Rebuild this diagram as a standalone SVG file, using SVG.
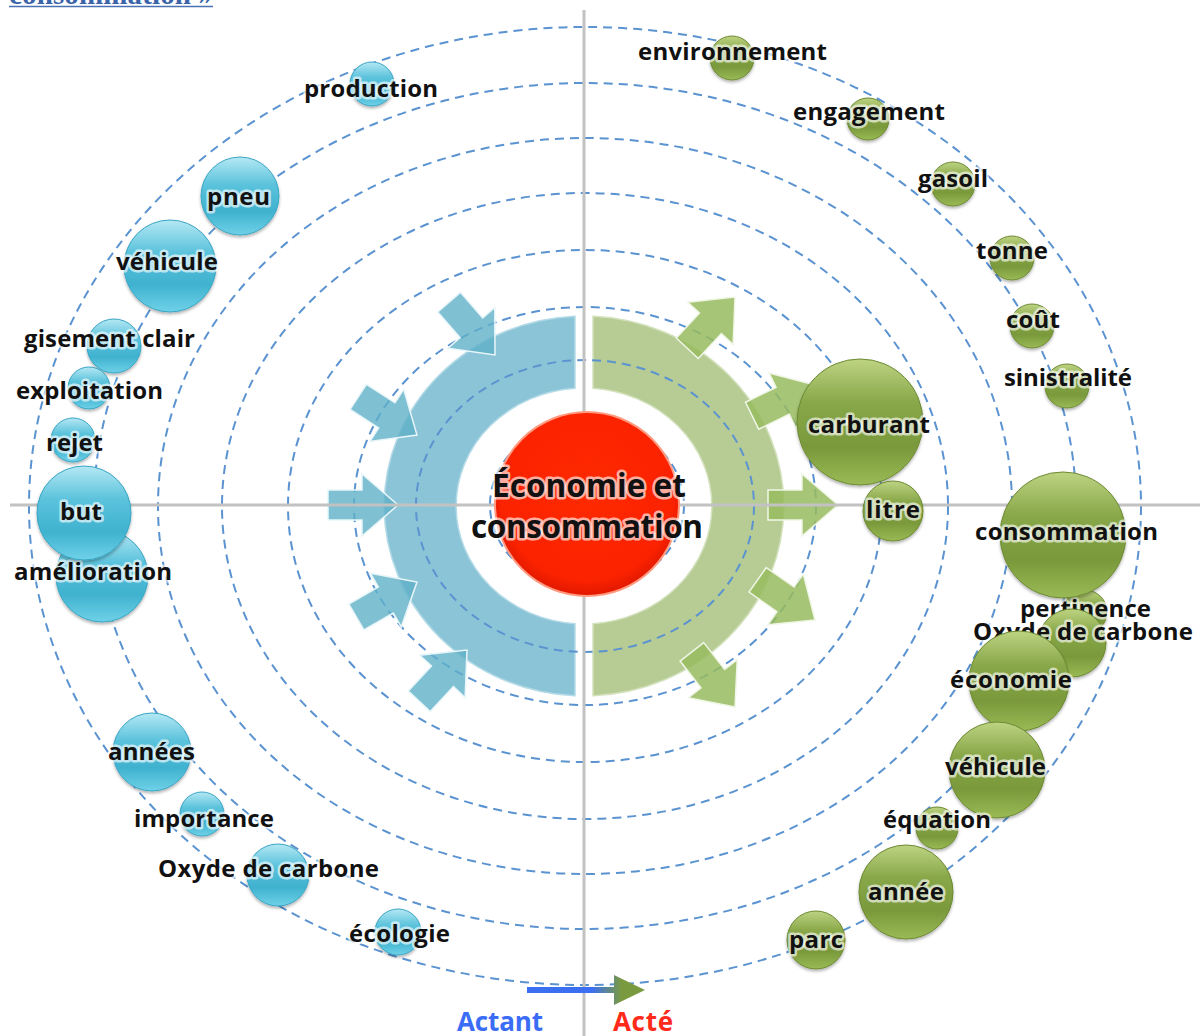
<svg xmlns="http://www.w3.org/2000/svg" width="1200" height="1036" viewBox="0 0 1200 1036">
<style>
.orb{fill:none;stroke:#5b93d0;stroke-width:2;stroke-dasharray:9 6}
.axis{stroke:#c2c2c2;stroke-width:3}
.lbl{font-family:"Open Sans","DejaVu Sans",sans-serif;font-weight:700;font-size:24px;fill:#111;text-anchor:middle;stroke:#fff;stroke-opacity:.65;stroke-width:5;stroke-linejoin:round;paint-order:stroke}
.actant circle{fill:url(#gb);stroke:#3aa6c4;stroke-width:1;filter:url(#sh)}
.acte circle{fill:url(#gg);stroke:#6d8a33;stroke-width:1;filter:url(#sh)}
.ain{fill:#5fb0c8;fill-opacity:.8;stroke:#e8f6fa;stroke-width:1.5}
.aout{fill:#98bb5e;fill-opacity:.85;stroke:#f0f6e6;stroke-width:1.5}
</style>
<defs>
<linearGradient id="gb" x1="0" y1="0" x2="0" y2="1">
<stop offset="0" stop-color="#b5e8f4"/><stop offset=".35" stop-color="#5cc3dc"/><stop offset=".7" stop-color="#3fb2cf"/><stop offset="1" stop-color="#6fd1e8"/>
</linearGradient>
<linearGradient id="gg" x1="0" y1="0" x2="0" y2="1">
<stop offset="0" stop-color="#bdd382"/><stop offset=".35" stop-color="#88a748"/><stop offset=".7" stop-color="#7a993b"/><stop offset="1" stop-color="#9aba56"/>
</linearGradient>
<radialGradient id="gr" cx=".5" cy=".45" r=".55">
<stop offset="0" stop-color="#ff2a00"/><stop offset=".85" stop-color="#fb2200"/><stop offset="1" stop-color="#e01800"/>
</radialGradient>
<linearGradient id="gl" x1="0" y1="0" x2="1" y2="0">
<stop offset="0" stop-color="#3b6ff2"/><stop offset=".55" stop-color="#3b6ff2"/><stop offset=".8" stop-color="#7a9a40"/><stop offset="1" stop-color="#7a9a40"/>
</linearGradient>
<filter id="sh" x="-20%" y="-20%" width="140%" height="150%">
<feDropShadow dx="0" dy="2" stdDeviation="1.5" flood-color="#000" flood-opacity=".3"/>
</filter>
<polygon id="arr" points="-70,-15 -36,-15 -36,-31 0,0 -36,31 -36,15 -70,15"/>
</defs>
<rect width="1200" height="1036" fill="#fff"/>

<g id="title">
<text x="111" y="4" font-family="'Liberation Serif',serif" font-weight="700" font-size="29" fill="#3b64a8" text-anchor="middle" textLength="204">consommation »</text>
<line x1="9" y1="6.5" x2="213" y2="6.5" stroke="#4a72b0" stroke-width="1.5"/>
</g>

<g id="bands">
<path d="M575,316.2 A200,190 0 0 0 575,695.8 L575,623.7 A128,118 0 0 1 575,388.3 Z" fill="#8cc4d7" stroke="#b5dbe7" stroke-width="1.5"/>
<path d="M593,316.2 A200,190 0 0 1 593,695.8 L593,623.7 A128,118 0 0 0 593,388.3 Z" fill="#b6cc94" stroke="#d3e1bd" stroke-width="1.5"/>
</g>

<g id="orbits">
<ellipse class="orb" cx="585" cy="506" rx="556" ry="479"/>
<ellipse class="orb" cx="585" cy="506" rx="491" ry="423"/>
<ellipse class="orb" cx="585" cy="506" rx="427" ry="368"/>
<ellipse class="orb" cx="585" cy="506" rx="363" ry="313"/>
<ellipse class="orb" cx="585" cy="506" rx="297" ry="256"/>
<ellipse class="orb" cx="585" cy="506" rx="231" ry="199"/>
<ellipse class="orb" cx="585" cy="506" rx="169" ry="146"/>
<ellipse class="orb" cx="587" cy="505" rx="97" ry="84"/>
</g>

<g id="connectors">
<use href="#arr" class="ain" transform="translate(495,355) rotate(49)"/>
<use href="#arr" class="ain" transform="translate(417,435) rotate(33)"/>
<use href="#arr" class="ain" transform="translate(398,505)"/>
<use href="#arr" class="ain" transform="translate(417,582) rotate(-30)"/>
<use href="#arr" class="ain" transform="translate(467,650) rotate(-47)"/>
<use href="#arr" class="aout" transform="translate(735,297) rotate(-47)"/>
<use href="#arr" class="aout" transform="translate(815,385) rotate(-26)"/>
<use href="#arr" class="aout" transform="translate(838,505)"/>
<use href="#arr" class="aout" transform="translate(815,620) rotate(35)"/>
<use href="#arr" class="aout" transform="translate(735,707) rotate(52)"/>
<line class="axis" x1="10" y1="505" x2="1200" y2="505"/>
<line class="axis" x1="584" y1="10" x2="584" y2="1036"/>
<path d="M527,987 L614,987 L614,975 L645,990 L614,1005 L614,993 L527,993 Z" fill="url(#gl)"/>
</g>

<g id="center">
<circle cx="587" cy="504" r="92" fill="url(#gr)" stroke="#ff9a80" stroke-width="2"/>
<text class="lbl" x="589" y="497" font-size="31.5" style="font-size:31.5px" textLength="194">Économie et</text>
<text class="lbl" x="587" y="538" style="font-size:31.5px" textLength="232">consommation</text>
</g>

<g id="legend">
<text x="500" y="1031" font-family="'Open Sans','DejaVu Sans',sans-serif" font-weight="700" font-size="26" fill="#3b6cf6" text-anchor="middle" textLength="86">Actant</text>
<text x="643" y="1031" font-family="'Open Sans','DejaVu Sans',sans-serif" font-weight="700" font-size="26" fill="#ff2a1a" text-anchor="middle" textLength="60">Acté</text>
</g>

<g id="n-production" class="actant"><circle cx="372" cy="84" r="22"/><text class="lbl" x="371" y="97" textLength="134">production</text></g>
<g id="n-pneu" class="actant"><circle cx="240" cy="196" r="39"/><text class="lbl" x="238.5" y="205" textLength="63">pneu</text></g>
<g id="n-vehicule-a" class="actant"><circle cx="170" cy="266" r="46"/><text class="lbl" x="167" y="270" textLength="102">véhicule</text></g>
<g id="n-gisement" class="actant"><circle cx="114" cy="346" r="27"/><text class="lbl" x="109.5" y="347" textLength="171">gisement clair</text></g>
<g id="n-exploitation" class="actant"><circle cx="89" cy="388" r="21"/><text class="lbl" x="89.5" y="399" textLength="147">exploitation</text></g>
<g id="n-rejet" class="actant"><circle cx="73" cy="440" r="22"/><text class="lbl" x="74.5" y="451" textLength="57">rejet</text></g>
<g id="n-amelioration" class="actant"><circle cx="102" cy="576" r="46"/><text class="lbl" x="93" y="580" textLength="158">amélioration</text></g>
<g id="n-but" class="actant"><circle cx="84" cy="513" r="47"/><text class="lbl" x="81" y="520" textLength="42">but</text></g>
<g id="n-annees" class="actant"><circle cx="152" cy="752" r="39"/><text class="lbl" x="151.5" y="760" textLength="87">années</text></g>
<g id="n-importance" class="actant"><circle cx="202" cy="814" r="22"/><text class="lbl" x="204" y="827" textLength="140">importance</text></g>
<g id="n-oxyde-a" class="actant"><circle cx="278" cy="875" r="31"/><text class="lbl" x="268.5" y="877" textLength="221">Oxyde de carbone</text></g>
<g id="n-ecologie" class="actant"><circle cx="398" cy="932" r="23"/><text class="lbl" x="399.5" y="942" textLength="101">écologie</text></g>

<g id="n-environnement" class="acte"><circle cx="732" cy="58" r="22"/><text class="lbl" x="732.5" y="60" textLength="189">environnement</text></g>
<g id="n-engagement" class="acte"><circle cx="868" cy="119" r="21"/><text class="lbl" x="869" y="120" textLength="152">engagement</text></g>
<g id="n-gasoil" class="acte"><circle cx="953" cy="184" r="22"/><text class="lbl" x="953" y="187" textLength="70">gasoil</text></g>
<g id="n-tonne" class="acte"><circle cx="1012" cy="258" r="22"/><text class="lbl" x="1012" y="259" textLength="72">tonne</text></g>
<g id="n-cout" class="acte"><circle cx="1032" cy="326" r="22"/><text class="lbl" x="1033" y="328" textLength="54">coût</text></g>
<g id="n-sinistralite" class="acte"><circle cx="1067" cy="386" r="22"/><text class="lbl" x="1068" y="386" textLength="128">sinistralité</text></g>
<g id="n-carburant" class="acte"><circle cx="860" cy="422" r="63"/><text class="lbl" x="869" y="433" textLength="122">carburant</text></g>
<g id="n-litre" class="acte"><circle cx="893" cy="511" r="30"/><text class="lbl" x="893" y="518" textLength="54">litre</text></g>
<g id="n-pertinence" class="acte"><circle cx="1085" cy="612" r="22"/><text class="lbl" x="1085.5" y="617" textLength="131">pertinence</text></g>
<g id="n-consommation" class="acte"><circle cx="1063" cy="535" r="63"/><text class="lbl" x="1066.5" y="540" textLength="183">consommation</text></g>
<g id="n-oxyde-b" class="acte"><circle cx="1072" cy="643" r="34"/><text class="lbl" x="1083" y="640" textLength="220">Oxyde de carbone</text></g>
<g id="n-economie" class="acte"><circle cx="1019" cy="681" r="50"/><text class="lbl" x="1011" y="688" textLength="122">économie</text></g>
<g id="n-vehicule-b" class="acte"><circle cx="997" cy="770" r="48"/><text class="lbl" x="995.5" y="775" textLength="101">véhicule</text></g>
<g id="n-equation" class="acte"><circle cx="937" cy="828" r="21"/><text class="lbl" x="937" y="828" textLength="108">équation</text></g>
<g id="n-annee" class="acte"><circle cx="906" cy="892" r="47"/><text class="lbl" x="906" y="900" textLength="76">année</text></g>
<g id="n-parc" class="acte"><circle cx="816" cy="940" r="29"/><text class="lbl" x="816" y="948" textLength="54">parc</text></g>
</svg>
